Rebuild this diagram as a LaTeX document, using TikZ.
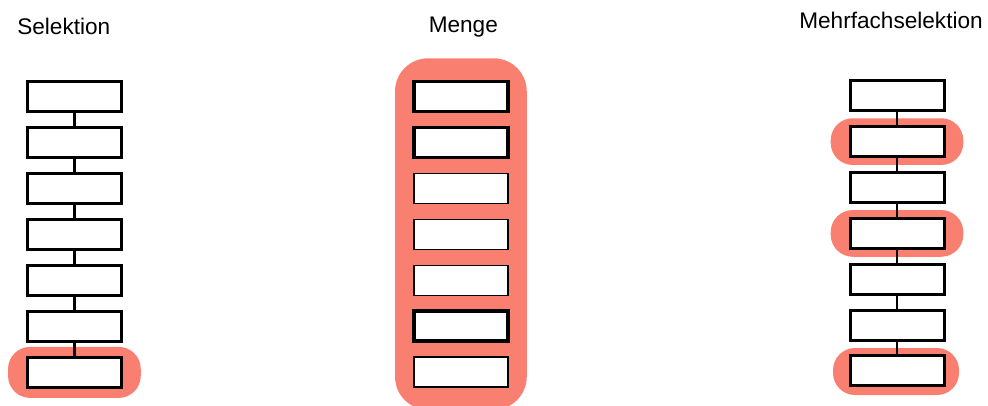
\documentclass[tikz,border=0pt]{standalone}
\usepackage{fontspec}
\setmainfont{Liberation Sans}
\definecolor{hlcol}{RGB}{249,128,113}
\begin{document}
\begin{tikzpicture}[x=1pt,y=-1pt,
  itembox/.style={draw=black,fill=white,line width=3pt,minimum width=94pt,minimum height=30pt,inner sep=0pt,outer sep=0pt},
  thinbox/.style={itembox,line width=1.8pt},
  thickbox/.style={itembox,line width=3.6pt},
  hl/.style={fill=hlcol,draw=none,inner sep=0pt,outer sep=0pt},
  link/.style={line width=2.5pt},
  title/.style={anchor=base,inner sep=0pt,font=\fontsize{22.6}{26}\selectfont}]
\useasboundingbox (0,0) rectangle (988,405);
% titles
\node[title] (tl) at (63.8,34.3) {Selektion};
\node[title] (tm) at (463.3,32.3) {Menge};
\node[title] (tr) at (891,28.3) {Mehrfachselektion};
% highlights
\node[hl,minimum width=132.7pt,minimum height=51pt,rounded corners=22pt] (hl7) at (74.4,372.4) {};
\node[hl,minimum width=131.7pt,minimum height=351.4pt,rounded corners=33pt] (hm) at (460.9,234) {};
\node[hl,minimum width=132.6pt,minimum height=46.7pt,rounded corners=22pt] (hr2) at (897,141.6) {};
\node[hl,minimum width=132.6pt,minimum height=46.7pt,rounded corners=22pt] (hr4) at (897,233.4) {};
\node[hl,minimum width=126pt,minimum height=47pt,rounded corners=22pt] (hr7) at (896,371.5) {};
% left column
\foreach \i in {1,...,7} {
  \node[itembox] (l\i) at (74.7,{96.6+45.9*(\i-1)}) {};
}
\foreach \i/\j in {1/2,2/3,3/4,4/5,5/6,6/7} {
  \draw[link] (l\i.south) -- (l\j.north);
}
% middle column
\node[thickbox] (m1) at (461,96.4) {};
\node[thickbox] (m2) at (461,142.3) {};
\node[thinbox] (m3) at (461,188.4) {};
\node[thinbox] (m4) at (461,234.4) {};
\node[thinbox] (m5) at (461,280.4) {};
\node[thickbox] (m6) at (461,326.2) {};
\node[thinbox] (m7) at (461,372.2) {};
% right column
\foreach \i in {1,...,7} {
  \node[itembox] (r\i) at (897,{95.5+45.9*(\i-1)}) {};
}
\foreach \i/\j in {1/2,2/3,3/4,4/5,5/6,6/7} {
  \draw[link] (r\i.south) -- (r\j.north);
}
\end{tikzpicture}
\end{document}
